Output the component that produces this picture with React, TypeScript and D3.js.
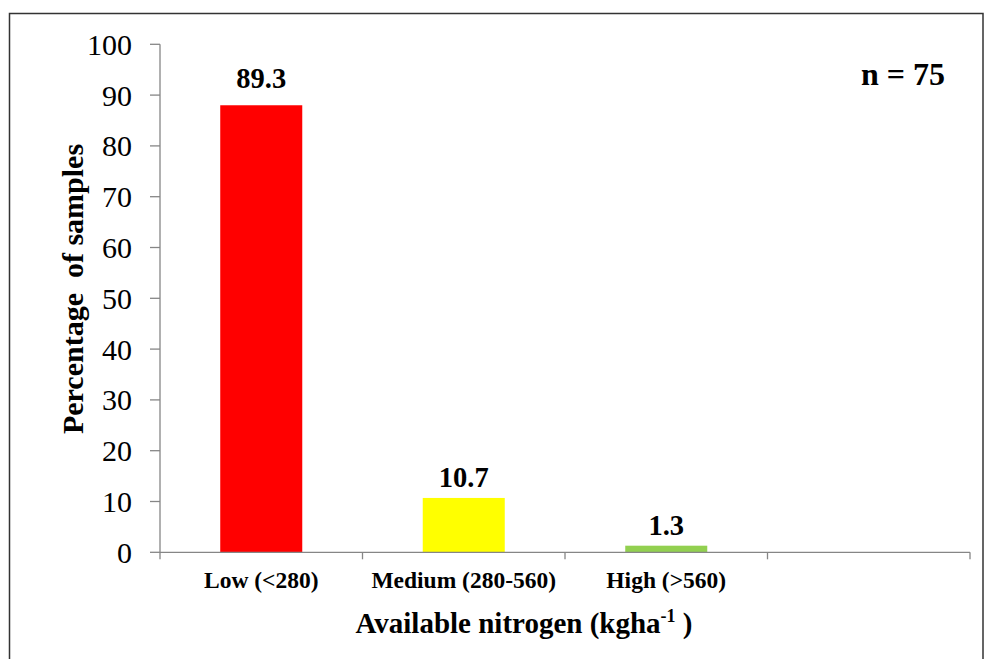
import React from "react";
import * as d3 from "d3";

const categories = ["Low (<280)", "Medium (280-560)", "High (>560)", ""];
const barValues = [88.0, 10.7, 1.3];
const labelValues = [89.3, 10.7, 1.3];
const barColors = ["#ff0000", "#ffff00", "#92d050"];
const yTicks = [0, 10, 20, 30, 40, 50, 60, 70, 80, 90, 100];
const sampleNote = "n = 75";

const W = 984;
const H = 659;
const FONT = '"Liberation Serif", "Times New Roman", serif';
const AXIS = "#868686";

export default function App() {
  const x = d3
    .scaleBand<string>()
    .domain(categories)
    .range([160, 970])
    .paddingInner(0.595)
    .paddingOuter(0.2975);
  const step = x.step();
  const y = d3.scaleLinear().domain([0, 100]).range([552.3, 44.3]);

  const boundaries = d3.range(categories.length + 1).map((i) => 160 + i * step);

  return (
    <svg
      width={W}
      height={H}
      style={{ position: "absolute", left: 0, top: 0, background: "#fff" }}
      fontFamily={FONT}
    >
      <rect x={0} y={0} width={W} height={H} fill="#fff" />
      {/* outer border */}
      <path d={`M9.5,${H + 2} V13.5 H983 V${H + 2}`} fill="none" stroke="#333" strokeWidth={1.5} />

      {/* bars */}
      {barValues.map((v, i) => (
        <rect
          key={i}
          x={x(categories[i])!}
          width={x.bandwidth()}
          y={y(v)}
          height={y(0) - y(v)}
          fill={barColors[i]}
        />
      ))}

      {/* y axis */}
      <line x1={160} x2={160} y1={y(100)} y2={y(0)} stroke={AXIS} strokeWidth={1.3} />
      {yTicks.map((t) => (
        <g key={t}>
          <line x1={150} x2={160} y1={y(t)} y2={y(t)} stroke={AXIS} strokeWidth={1.3} />
          <text x={132} y={y(t) + 10.5} textAnchor="end" fontSize={30} fill="#000">
            {t}
          </text>
        </g>
      ))}

      {/* x axis */}
      <line x1={160} x2={970} y1={y(0)} y2={y(0)} stroke={AXIS} strokeWidth={1.3} />
      {boundaries.map((bx, i) => (
        <line key={i} x1={bx} x2={bx} y1={y(0)} y2={y(0) + 7} stroke={AXIS} strokeWidth={1.3} />
      ))}
      {categories.map((c) => (
        <text
          key={c}
          x={x(c)! + x.bandwidth() / 2}
          y={588}
          textAnchor="middle"
          fontSize={23.5}
          fontWeight="bold"
          fill="#000"
        >
          {c}
        </text>
      ))}

      {/* value labels */}
      {labelValues.map((v, i) => (
        <text
          key={i}
          x={x(categories[i])! + x.bandwidth() / 2}
          y={y(v) - 11}
          textAnchor="middle"
          fontSize={28.5}
          fontWeight="bold"
          fill="#000"
        >
          {v.toFixed(1)}
        </text>
      ))}

      {/* y title */}
      <text
        transform={`translate(83,289) rotate(-90)`}
        textAnchor="middle"
        fontSize={30}
        fontWeight="bold"
        fill="#000"
        style={{ whiteSpace: "pre" }}
      >
        {"Percentage  of samples"}
      </text>

      {/* x title */}
      <text x={524} y={633} textAnchor="middle" fontSize={29} fontWeight="bold" fill="#000">
        Available nitrogen (kgha
        <tspan fontSize={18} dy={-11}>-1</tspan>
        <tspan dy={11}>{" )"}</tspan>
      </text>

      {/* n note */}
      <text x={945} y={85} textAnchor="end" fontSize={32} fontWeight="bold" fill="#000" style={{ whiteSpace: "pre" }}>
        {sampleNote}
      </text>
    </svg>
  );
}
